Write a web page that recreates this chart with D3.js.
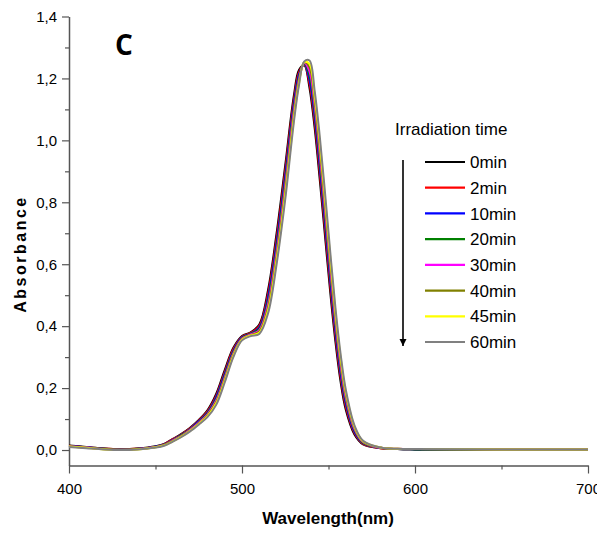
<!DOCTYPE html>
<html>
<head>
<meta charset="utf-8">
<script src="https://cdn.jsdelivr.net/npm/d3@7"></script>
<style>
  html, body { margin: 0; padding: 0; background: #fff; }
  svg { display: block; }
</style>
</head>
<body>
<svg id="chart" width="597" height="535"></svg>
<script>
// ---------- DATA ----------
const wavelengths = [400,410,420,430,440,450,455,460,465,470,475,480,485,490,495,500,505,510,515,520,525,530,533,536,539,542,545,548,551,554,557,560,565,570,580,590,600,650,700];

const s0min  = [.015,.010,.005,.003,.005,.012,.020,.036,.052,.072,.097,.128,.180,.258,.330,.368,.380,.405,.515,.700,.920,1.145,1.228,1.242,1.170,1.040,.870,.690,.510,.350,.220,.130,.050,.018,.006,.003,.002,.001,.001];
const s2min  = [.014,.009,.005,.003,.005,.011,.019,.035,.051,.070,.095,.125,.175,.252,.326,.366,.378,.401,.504,.685,.904,1.132,1.221,1.244,1.183,1.058,.891,.711,.530,.367,.234,.140,.055,.020,.006,.003,.002,.001,.001];
const s10min = [.013,.009,.004,.002,.004,.011,.018,.033,.049,.068,.093,.121,.170,.246,.321,.364,.376,.396,.493,.670,.887,1.120,1.214,1.246,1.196,1.076,.912,.732,.549,.383,.247,.150,.059,.022,.007,.003,.002,.001,.001];
const s20min = [.013,.008,.004,.002,.004,.010,.017,.032,.048,.067,.090,.118,.164,.240,.317,.362,.375,.392,.481,.655,.871,1.107,1.206,1.248,1.210,1.094,.933,.753,.569,.400,.261,.159,.064,.023,.007,.003,.002,.001,.001];
const s30min = [.012,.008,.003,.001,.003,.010,.016,.031,.046,.065,.088,.115,.159,.234,.312,.360,.373,.387,.470,.640,.854,1.094,1.199,1.250,1.223,1.112,.954,.774,.588,.416,.274,.169,.068,.025,.007,.004,.003,.002,.002];
const s40min = [.011,.007,.003,.001,.003,.009,.016,.029,.045,.063,.086,.112,.154,.228,.308,.358,.371,.383,.459,.625,.838,1.081,1.192,1.252,1.236,1.130,.975,.795,.608,.433,.288,.179,.073,.027,.008,.004,.003,.002,.002];
const s45min = [.011,.007,.002,.000,.002,.009,.015,.028,.043,.062,.084,.109,.150,.223,.304,.356,.370,.379,.450,.613,.824,1.071,1.186,1.253,1.247,1.144,.992,.812,.623,.446,.298,.187,.076,.028,.008,.004,.003,.002,.002];
const s60min = [.010,.006,.002,.000,.002,.008,.014,.027,.042,.060,.082,.106,.145,.218,.300,.354,.368,.375,.440,.600,.810,1.060,1.180,1.255,1.258,1.160,1.010,.830,.640,.460,.310,.195,.080,.030,.008,.004,.003,.002,.002];

const seriesNames  = ["0min","2min","10min","20min","30min","40min","45min","60min"];
const seriesValues = [s0min, s2min, s10min, s20min, s30min, s40min, s45min, s60min];
const seriesColors = ["#000000","#ff0000","#0000ff","#008000","#ff00ff","#808000","#ffff00","#808080"];

const xTicks = [400, 500, 600, 700];
const xMinorTicks = [450, 550, 650];
const yTicks = [0, 0.2, 0.4, 0.6, 0.8, 1.0, 1.2, 1.4];
const yMinorTicks = [0.1, 0.3, 0.5, 0.7, 0.9, 1.1, 1.3];

const xTitle = "Wavelength(nm)";
const yTitle = "Absorbance";
const legendTitle = "Irradiation time";
const panelLabel = "C";

// ---------- CHART ----------
const svg = d3.select("#chart");
const axisColor = "#555";
const fontFamily = "'Liberation Sans', Arial, sans-serif";

const x = d3.scaleLinear().domain([400, 700]).range([69, 588]);
const y = d3.scaleLinear().domain([-0.05, 1.4]).range([465.5, 16.5]);

const fmt = d => d3.format(".1f")(d).replace(".", ",");

// Y axis
svg.append("g").attr("transform", `translate(${x(400)},0)`)
  .call(d3.axisLeft(y).tickValues(yTicks).tickFormat(fmt).tickSize(7).tickPadding(5).tickSizeOuter(0));
svg.append("g").attr("transform", `translate(${x(400)},0)`)
  .call(d3.axisLeft(y).tickValues(yMinorTicks).tickFormat("").tickSize(4).tickSizeOuter(0))
  .select(".domain").remove();

// X axis
svg.append("g").attr("transform", `translate(0,${y(-0.05)})`)
  .call(d3.axisBottom(x).tickValues(xTicks).tickFormat(d3.format("d")).tickSize(8).tickPadding(10).tickSizeOuter(0));
svg.append("g").attr("transform", `translate(0,${y(-0.05)})`)
  .call(d3.axisBottom(x).tickValues(xMinorTicks).tickFormat("").tickSize(4).tickSizeOuter(0))
  .select(".domain").remove();

svg.selectAll(".domain").attr("stroke", axisColor).attr("stroke-width", 1.5);
svg.selectAll(".tick line").attr("stroke", axisColor).attr("stroke-width", 1.2);
svg.selectAll(".tick text").attr("fill", "#000").style("font-family", fontFamily).style("font-size", "15px");

// Curves
const line = d3.line()
  .x((d, i) => x(wavelengths[i]))
  .y(d => y(d))
  .curve(d3.curveCatmullRom.alpha(0.5));

svg.append("g").selectAll("path")
  .data(seriesValues)
  .join("path")
  .attr("d", d => line(d))
  .attr("fill", "none")
  .attr("stroke", (d, i) => seriesColors[i])
  .attr("stroke-width", 2)
  .attr("stroke-linejoin", "round");

// Axis titles
svg.append("text")
  .attr("x", 328).attr("y", 524)
  .attr("text-anchor", "middle")
  .style("font-family", fontFamily).style("font-weight", "bold").style("font-size", "17px")
  .text(xTitle);

svg.append("text")
  .attr("transform", "translate(26,254) rotate(-90)")
  .attr("text-anchor", "middle")
  .style("font-family", fontFamily).style("font-weight", "bold").style("font-size", "16px")
  .style("letter-spacing", "2.5px")
  .text(yTitle);

// Panel label
svg.append("text")
  .attr("x", 115).attr("y", 55)
  .style("font-family", "'Open Sans', sans-serif").style("font-weight", "bold").style("font-size", "28px")
  .text(panelLabel);

// Legend
const legend = svg.append("g");
legend.append("text")
  .attr("x", 395).attr("y", 135)
  .style("font-family", fontFamily).style("font-size", "17px")
  .text(legendTitle);

const legendY = d3.scalePoint().domain(seriesNames).range([162, 342]);
const items = legend.selectAll("g.item").data(seriesNames).join("g").attr("class", "item")
  .attr("transform", d => `translate(0,${legendY(d)})`);
items.append("line")
  .attr("x1", 425).attr("x2", 465).attr("y1", 0).attr("y2", 0)
  .attr("stroke", (d, i) => seriesColors[i]).attr("stroke-width", 2.2);
items.append("text")
  .attr("x", 470).attr("y", 0).attr("dy", "0.36em")
  .style("font-family", fontFamily).style("font-size", "17px")
  .text(d => d);

// Arrow
const defs = svg.append("defs");
defs.append("marker").attr("id", "arrowhead")
  .attr("viewBox", "0 0 10 10").attr("refX", 10).attr("refY", 5)
  .attr("markerWidth", 4.5).attr("markerHeight", 7).attr("orient", "auto")
  .attr("markerUnits", "strokeWidth")
  .append("path").attr("d", "M0,0 L10,5 L0,10 z").attr("fill", "#000");
legend.append("line")
  .attr("x1", 403).attr("x2", 403).attr("y1", 160).attr("y2", 346)
  .attr("stroke", "#000").attr("stroke-width", 1.6)
  .attr("marker-end", "url(#arrowhead)");
</script>
</body>
</html>
